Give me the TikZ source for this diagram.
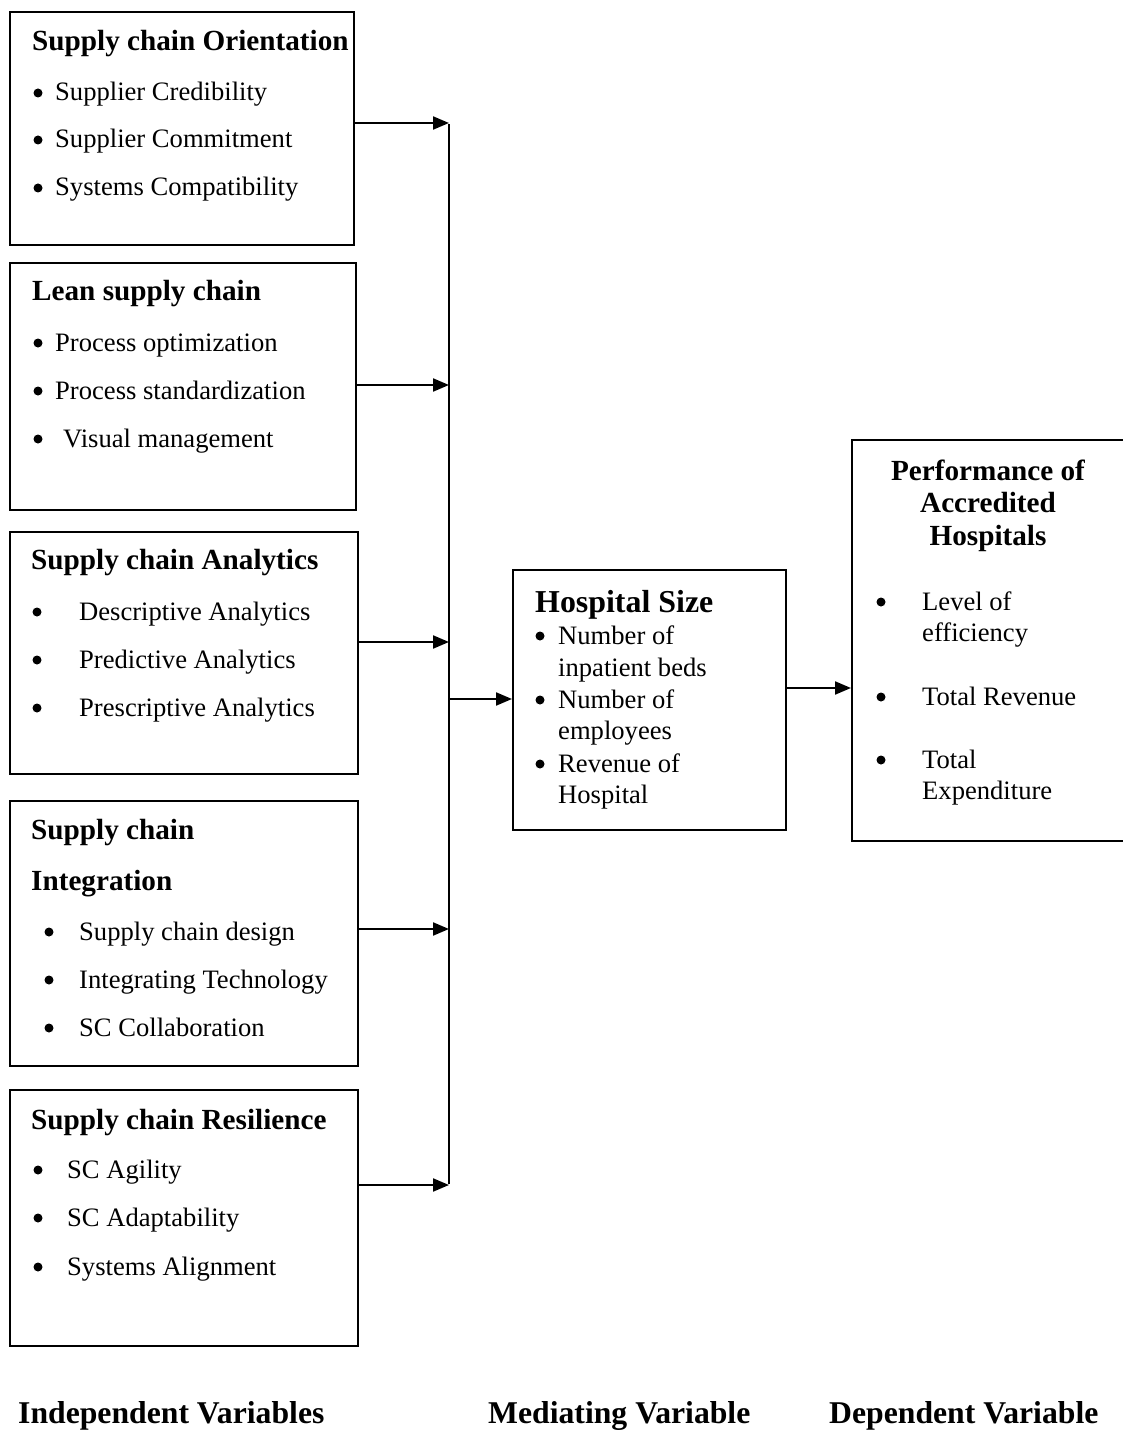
\documentclass[tikz,border=0pt]{standalone}
\usepackage{fontspec}
\setmainfont{Liberation Serif}
\usetikzlibrary{arrows.meta}
\begin{document}
\begin{tikzpicture}[x=1pt,y=-1pt,
  box/.style={draw,line width=2.1pt,anchor=north west,inner sep=0pt},
  ttl/.style={anchor=base west,inner sep=0pt,font=\fontsize{29.2}{34}\selectfont\bfseries},
  txt/.style={anchor=base west,inner sep=0pt,font=\fontsize{26.6}{32}\selectfont},
  bul/.style={circle,fill,inner sep=0pt,minimum size=9pt,yshift=8pt},
  lab/.style={anchor=base west,inner sep=0pt,font=\fontsize{31.7}{36}\selectfont\bfseries},
  arr/.style={line width=2.1pt,-{Triangle[length=16pt,width=13pt]}},
  bus/.style={line width=2.1pt}]
\useasboundingbox (0,0) rectangle (1123,1434);

% Box 1
\node[box,minimum width=344pt,minimum height=233pt] (b1) at (9,11) {};
\node[ttl] (b1t) at (32,51) {Supply chain Orientation};
\node[bul] (b1a) at (38,101) {};
\node[txt] (b1b) at (55,101) {Supplier Credibility};
\node[bul] (b1c) at (38,148) {};
\node[txt] (b1d) at (55,148) {Supplier Commitment};
\node[bul] (b1e) at (38,196) {};
\node[txt] (b1f) at (55,196) {Systems Compatibility};

% Box 2
\node[box,minimum width=346pt,minimum height=247pt] (b2) at (9,262) {};
\node[ttl] (b2t) at (32,300) {Lean supply chain};
\node[bul] (b2a) at (38,351) {};
\node[txt] (b2b) at (55,351) {Process optimization};
\node[bul] (b2c) at (38,399) {};
\node[txt] (b2d) at (55,399) {Process standardization};
\node[bul] (b2e) at (38,447) {};
\node[txt] (b2f) at (63,447) {Visual management};

% Box 3
\node[box,minimum width=348pt,minimum height=242pt] (b3) at (9,531) {};
\node[ttl] (b3t) at (31,569) {Supply chain Analytics};
\node[bul] (b3a) at (37,620) {};
\node[txt] (b3b) at (79,620) {Descriptive Analytics};
\node[bul] (b3c) at (37,668) {};
\node[txt] (b3d) at (79,668) {Predictive Analytics};
\node[bul] (b3e) at (37,716) {};
\node[txt] (b3f) at (79,716) {Prescriptive Analytics};

% Box 4
\node[box,minimum width=348pt,minimum height=265pt] (b4) at (9,800) {};
\node[ttl] (b4t) at (31,839) {Supply chain};
\node[ttl] (b4u) at (31,890) {Integration};
\node[bul] (b4a) at (49,940) {};
\node[txt] (b4b) at (79,940) {Supply chain design};
\node[bul] (b4c) at (49,988) {};
\node[txt] (b4d) at (79,988) {Integrating Technology};
\node[bul] (b4e) at (49,1036) {};
\node[txt] (b4f) at (79,1036) {SC Collaboration};

% Box 5
\node[box,minimum width=348pt,minimum height=256pt] (b5) at (9,1089) {};
\node[ttl] (b5t) at (31,1129) {Supply chain Resilience};
\node[bul] (b5a) at (38,1178) {};
\node[txt] (b5b) at (67,1178) {SC Agility};
\node[bul] (b5c) at (38,1226) {};
\node[txt] (b5d) at (67,1226) {SC Adaptability};
\node[bul] (b5e) at (38,1275) {};
\node[txt] (b5f) at (67,1275) {Systems Alignment};

% Hospital size
\node[box,minimum width=273pt,minimum height=260pt] (hs) at (512,569) {};
\node[anchor=base west,inner sep=0pt,font=\fontsize{31.9}{36}\selectfont\bfseries] (hst) at (535,612) {Hospital Size};
\node[bul] (hsa) at (540,644) {};
\node[txt] (hsb) at (558,644) {Number of};
\node[txt] (hsc) at (558,676) {inpatient beds};
\node[bul] (hsd) at (540,708) {};
\node[txt] (hse) at (558,708) {Number of};
\node[txt] (hsf) at (558,739) {employees};
\node[bul] (hsg) at (540,772) {};
\node[txt] (hsh) at (558,772) {Revenue of};
\node[txt] (hsi) at (558,803) {Hospital};

% Performance
\node[box,minimum width=280pt,minimum height=401pt] (pf) at (851,439) {};
\node[anchor=base,inner sep=0pt,font=\fontsize{29.2}{34}\selectfont\bfseries] (pft1) at (988,480) {Performance of};
\node[anchor=base,inner sep=0pt,font=\fontsize{29.2}{34}\selectfont\bfseries] (pft2) at (988,512) {Accredited};
\node[anchor=base,inner sep=0pt,font=\fontsize{29.2}{34}\selectfont\bfseries] (pft3) at (988,545) {Hospitals};
\node[bul] (pfa) at (881,610) {};
\node[txt] (pfb) at (922,610) {Level of};
\node[txt] (pfc) at (922,641) {efficiency};
\node[bul] (pfd) at (881,705) {};
\node[txt] (pfe) at (922,705) {Total Revenue};
\node[bul] (pff) at (881,768) {};
\node[txt] (pfg) at (922,768) {Total};
\node[txt] (pfh) at (922,799) {Expenditure};

% Bus and arrows
\coordinate (j1) at (449,123);
\coordinate (j2) at (449,385);
\coordinate (j3) at (449,642);
\coordinate (j4) at (449,929);
\coordinate (j5) at (449,1185);
\coordinate (jm) at (449,699);
\coordinate (ho) at (785,688);

\draw[bus] ([yshift=-1pt]j1) -- ([yshift=1pt]j5);
\draw[arr] (b1.east |- j1) -- (j1);
\draw[arr] (b2.east |- j2) -- (j2);
\draw[arr] (b3.east |- j3) -- (j3);
\draw[arr] (b4.east |- j4) -- (j4);
\draw[arr] (b5.east |- j5) -- (j5);
\draw[arr] (jm) -- (hs.west |- jm);
\draw[arr] (hs.east |- ho) -- (pf.west |- ho);

% Bottom labels
\node[lab] (l1) at (18,1423) {Independent Variables};
\node[lab] (l2) at (488,1423) {Mediating Variable};
\node[lab] (l3) at (829,1423) {Dependent Variable};
\end{tikzpicture}
\end{document}
